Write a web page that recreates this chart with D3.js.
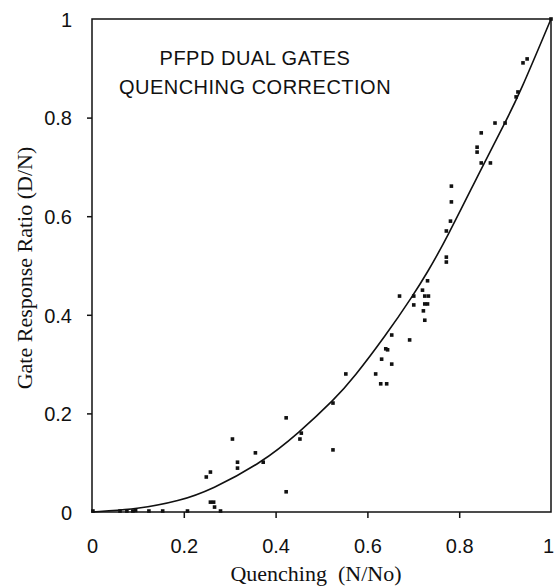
<!DOCTYPE html>
<html>
<head>
<meta charset="utf-8">
<script src="https://cdn.jsdelivr.net/npm/d3@7"></script>
<style>
    html, body { margin: 0; padding: 0; background: #ffffff; }
    svg { display: block; }
</style>
</head>
<body>
<div id="chart"></div>
<script>
// Data
const xTicks = [0, 0.2, 0.4, 0.6, 0.8, 1];
const yTicks = [0, 0.2, 0.4, 0.6, 0.8, 1];
const titleLines = ["PFPD DUAL GATES", "QUENCHING CORRECTION"];

const pointsX = [
    0.948, 0.939, 0.928, 0.924, 0.900, 0.878, 0.848, 0.839, 0.839, 0.848,
    0.868, 0.783, 0.783, 0.781, 0.772, 0.772, 0.772, 0.731, 0.720, 0.670,
    0.701, 0.725, 0.733, 0.701, 0.725, 0.731, 0.722, 0.725, 0.692, 0.653,
    0.640, 0.644, 0.631, 0.653, 0.553, 0.618, 0.629, 0.642, 0.525, 0.525,
    0.423, 0.456, 0.453, 0.423, 0.306, 0.356, 0.373, 0.317, 0.317, 0.249,
    0.258, 0.258, 0.265, 0.267, 0.280, 0.208, 0.154, 0.124, 0.095, 0.089,
    0.076, 0.061, 0.002, 1.000,
];
const pointsY = [
    0.919, 0.911, 0.852, 0.842, 0.789, 0.789, 0.769, 0.740, 0.730, 0.708,
    0.708, 0.661, 0.629, 0.590, 0.570, 0.517, 0.507, 0.469, 0.450, 0.438,
    0.438, 0.438, 0.438, 0.420, 0.422, 0.422, 0.408, 0.389, 0.349, 0.359,
    0.331, 0.329, 0.310, 0.300, 0.280, 0.280, 0.260, 0.260, 0.221, 0.126,
    0.191, 0.160, 0.148, 0.041, 0.148, 0.120, 0.101, 0.101, 0.089, 0.071,
    0.081, 0.020, 0.020, 0.010, 0.002, 0.002, 0.002, 0.002, 0.003, 0.002,
    0.002, 0.002, 0.002, 1.000,
];

// Fitted correction curve
const curveX = [0, 0.10, 0.19, 0.26, 0.37, 0.45, 0.53, 0.57, 0.64, 0.70, 0.73, 0.77, 0.85, 0.90, 0.93, 1.0];
const curveY = [0, 0.006, 0.022, 0.045, 0.100, 0.160, 0.230, 0.272, 0.358, 0.440, 0.485, 0.550, 0.700, 0.790, 0.845, 1.0];

// Configuration
const config = {
    width: 554,
    height: 586,
    plot: { left: 92, right: 551, top: 19, bottom: 512 },
    axis: { color: "#111111", width: 1.5, tickSize: 6 },
    ticks: { fontSize: "20px", fontFamily: "Arial, 'Liberation Sans', sans-serif", color: "#111111" },
    labels: { fontSize: "22px", fontFamily: "'Times New Roman', 'Liberation Serif', serif", color: "#111111" },
    title: { fontSize: "20px", fontFamily: "Arial, 'Liberation Sans', sans-serif", color: "#111111", x: 255, y: [65, 94] },
    points: { size: 3.6, color: "#111111" },
    curve: { color: "#111111", width: 1.6 },
};

const fmt = (d) => (d === 0 || d === 1) ? String(d) : d.toFixed(1);

const svg = d3.select("#chart")
    .append("svg")
    .attr("width", config.width)
    .attr("height", config.height);

const x = d3.scaleLinear().domain([0, 1]).range([config.plot.left, config.plot.right]);
const y = d3.scaleLinear().domain([0, 1]).range([config.plot.bottom, config.plot.top]);

// Frame
svg.append("rect")
    .attr("x", x(0))
    .attr("y", y(1))
    .attr("width", x(1) - x(0))
    .attr("height", y(0) - y(1))
    .attr("fill", "none")
    .attr("stroke", config.axis.color)
    .attr("stroke-width", config.axis.width);

// Axes
const xAxis = svg.append("g")
    .attr("transform", `translate(0,${y(0)})`)
    .call(d3.axisBottom(x).tickValues(xTicks).tickFormat(fmt).tickSize(config.axis.tickSize).tickSizeOuter(0));

const yAxis = svg.append("g")
    .attr("transform", `translate(${x(0)},0)`)
    .call(d3.axisLeft(y).tickValues(yTicks).tickFormat(fmt).tickSize(5).tickSizeOuter(0).tickPadding(15));

[xAxis, yAxis].forEach((g) => {
    g.select(".domain").remove();
    g.selectAll(".tick line")
        .attr("stroke", config.axis.color)
        .attr("stroke-width", config.axis.width);
    g.selectAll(".tick text")
        .attr("fill", config.ticks.color)
        .style("font-size", config.ticks.fontSize)
        .style("font-family", config.ticks.fontFamily);
});
// end ticks sit on the frame corners
xAxis.selectAll(".tick").filter((d) => d === 0 || d === 1).select("line").remove();
yAxis.selectAll(".tick").filter((d) => d === 0 || d === 1).select("line").remove();
xAxis.selectAll(".tick text").attr("dy", "0").attr("y", 41);
xAxis.selectAll(".tick").filter((d) => d === 1).select("text").attr("x", -3);
yAxis.selectAll(".tick text").attr("dy", "0.36em");

// Axis titles
svg.append("text")
    .attr("x", 316)
    .attr("y", 581)
    .attr("text-anchor", "middle")
    .attr("fill", config.labels.color)
    .style("font-size", config.labels.fontSize)
    .style("font-family", config.labels.fontFamily)
    .style("white-space", "pre")
    .text("Quenching  (N/No)");

svg.append("text")
    .attr("transform", `translate(32,${268}) rotate(-90)`)
    .attr("text-anchor", "middle")
    .attr("fill", config.labels.color)
    .style("font-size", config.labels.fontSize)
    .style("font-family", config.labels.fontFamily)
    .text("Gate Response Ratio (D/N)");

// Title block
svg.append("g")
    .selectAll("text")
    .data(titleLines)
    .enter()
    .append("text")
    .attr("x", config.title.x)
    .attr("y", (d, i) => config.title.y[i])
    .attr("text-anchor", "middle")
    .attr("fill", config.title.color)
    .style("font-size", config.title.fontSize)
    .style("font-family", config.title.fontFamily)
    .style("letter-spacing", "0.5px")
    .text((d) => d);

// Curve
const curveData = curveX.map((cx, i) => ({ x: cx, y: curveY[i] }));
const line = d3.line()
    .x((d) => x(d.x))
    .y((d) => y(d.y))
    .curve(d3.curveBasis);

svg.append("path")
    .datum(curveData)
    .attr("d", line)
    .attr("fill", "none")
    .attr("stroke", config.curve.color)
    .attr("stroke-width", config.curve.width);

// Data points
const pointData = pointsX.map((px, i) => ({ x: px, y: pointsY[i] }));
const s = config.points.size;
svg.append("g")
    .selectAll("rect")
    .data(pointData)
    .enter()
    .append("rect")
    .attr("x", (d) => x(d.x) - s / 2)
    .attr("y", (d) => y(d.y) - s / 2)
    .attr("width", s)
    .attr("height", s)
    .attr("fill", config.points.color);
</script>
</body>
</html>
